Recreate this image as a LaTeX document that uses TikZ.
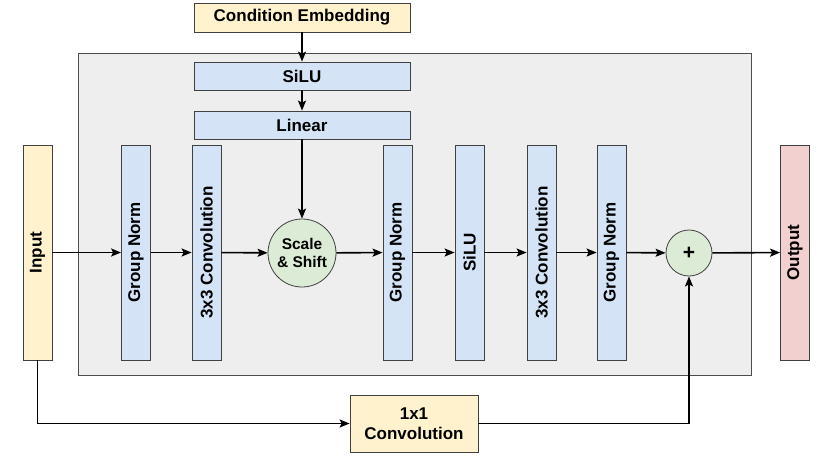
\documentclass[tikz,border=0pt]{standalone}
\usepackage{fontspec}
\setmainfont{Liberation Sans}
\usetikzlibrary{arrows.meta}

\definecolor{amarillo}{HTML}{FFF2CC}
\definecolor{azul}{HTML}{D4E3F5}
\definecolor{verde}{HTML}{DCEBD6}
\definecolor{rojo}{HTML}{F3D0D0}
\definecolor{gris}{HTML}{EEEEEE}

\begin{document}
\begin{tikzpicture}[x=1pt, y=-1pt,
    >={Stealth[length=10pt, width=8pt, inset=2pt]},
    caja/.style={draw=black!75, line width=0.8pt, inner sep=0pt, font=\bfseries\fontsize{17}{20}\selectfont},
    capa/.style={caja, fill=azul, minimum width=29, minimum height=215},
    barra/.style={caja, fill=azul, minimum width=216, minimum height=28},
    nodo/.style={draw=black!75, line width=0.8pt, circle, fill=verde, inner sep=0pt},
    flecha/.style={line width=1.6pt, ->}]
            \useasboundingbox (0,0) rectangle (834,456);

            % Contenedor
            \draw[fill=gris, draw=black!70, line width=0.8pt] (78,53) rectangle (751,375);

            % Condicion
            \node[caja, fill=amarillo, minimum width=216, minimum height=29] (cond) at (302,17.5) {Condition Embedding};
            \node[barra] (siluTop) at (302,76) {SiLU};
            \node[barra] (linear) at (302,125) {Linear};

            % Entrada y salida
            \node[capa, fill=amarillo] (input) at (37.5,252.5) {\rotatebox{90}{Input}};
            \node[capa, fill=rojo] (output) at (795,252.5) {\rotatebox{90}{Output}};

            % Capas
            \node[capa] (gnA) at (136,252.5) {\rotatebox{90}{Group Norm}};
            \node[capa] (convA) at (206.5,252.5) {\rotatebox{90}{3x3 Convolution}};
            \node[nodo, minimum size=68, align=center, font=\bfseries\fontsize{15.5}{18}\selectfont] (scale) at (302,253) {Scale\\\& Shift};
            \node[capa] (gnB) at (397.5,252.5) {\rotatebox{90}{Group Norm}};
            \node[capa] (siluB) at (469.5,252.5) {\rotatebox{90}{SiLU}};
            \node[capa] (convB) at (541.5,252.5) {\rotatebox{90}{3x3 Convolution}};
            \node[capa] (gnC) at (611.5,252.5) {\rotatebox{90}{Group Norm}};
            \node[nodo, minimum size=46, font=\bfseries\fontsize{21}{22}\selectfont] (plus) at (689,253) {+};

            % Atajo
            \node[caja, fill=amarillo, minimum width=128, minimum height=57, align=center] (convSkip) at (414,423.5) {1x1\\Convolution};

            % Flechas
            \draw[flecha] (cond) -- (siluTop);
            \draw[flecha] (siluTop) -- (linear);
            \draw[flecha] (linear) -- (scale);
            \draw[flecha] (input) -- (gnA);
            \draw[flecha] (gnA) -- (convA);
            \draw[flecha] (convA) -- (scale);
            \draw[flecha] (scale) -- (gnB);
            \draw[flecha] (gnB) -- (siluB);
            \draw[flecha] (siluB) -- (convB);
            \draw[flecha] (convB) -- (gnC);
            \draw[flecha] (gnC) -- (plus);
            \draw[flecha] (plus) -- (output);
            \draw[flecha] (input.south) |- (convSkip.west);
            \draw[flecha] (convSkip.east) -| (plus.south);
\end{tikzpicture}
\end{document}
